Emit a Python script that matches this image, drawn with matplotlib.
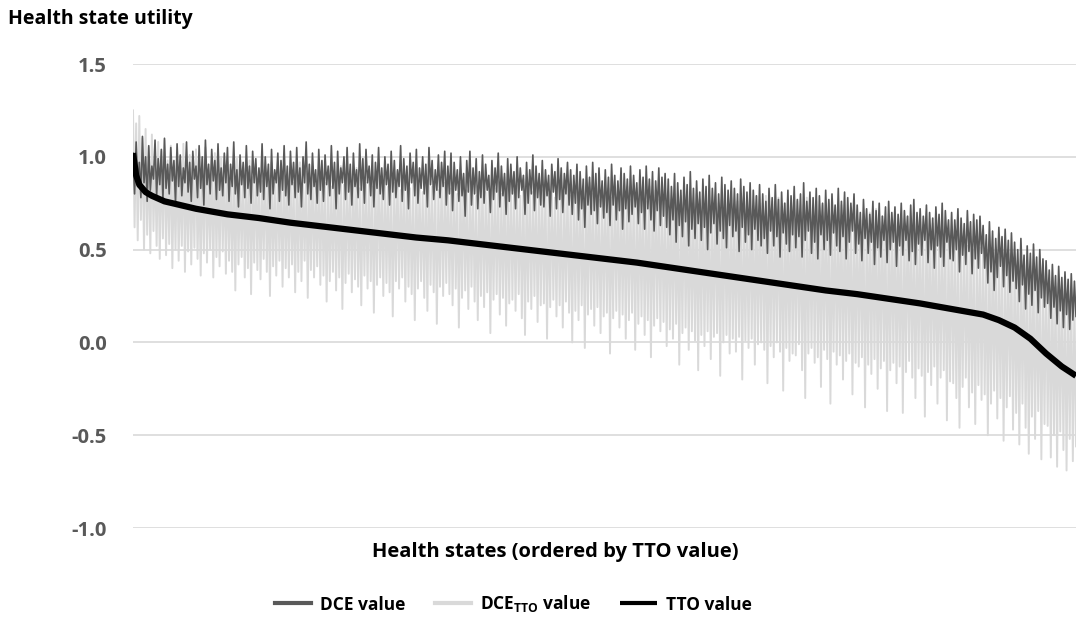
import numpy as np
import matplotlib
matplotlib.use('Agg')
import matplotlib.pyplot as plt

plt.rcParams['font.family'] = ['Open Sans', 'DejaVu Sans']
plt.rcParams['font.weight'] = 'bold'

# DCE value, health states ordered by TTO value
dce = [
    1.02, 0.80, 1.08, 0.84, 0.97, 0.78, 1.11, 0.86, 1.00, 0.76, 1.06, 0.82, 0.95, 0.88, 1.09, 0.79, 0.99, 0.85, 1.04, 0.77,
    1.10, 0.83, 0.96, 0.80, 1.05, 0.87, 0.98, 0.75, 1.07, 0.84, 1.01, 0.79, 0.94, 0.86, 1.08, 0.81, 0.97, 0.76, 1.03, 0.88,
    0.95, 0.78, 1.06, 0.83, 1.00, 0.74, 1.09, 0.85, 0.96, 0.80, 1.04, 0.87, 0.98, 0.77, 1.07, 0.82, 0.94, 0.79, 1.02, 0.86,
    1.05, 0.76, 0.96, 0.84, 1.08, 0.80, 0.93, 0.73, 1.01, 0.85, 0.97, 0.78, 1.06, 0.83, 0.95, 0.75, 1.03, 0.86, 0.99, 0.79,
    0.94, 0.81, 1.07, 0.77, 1.00, 0.84, 0.96, 0.72, 1.04, 0.80, 0.93, 0.86, 1.02, 0.76, 0.98, 0.82, 1.06, 0.79, 0.95, 0.74,
    1.03, 0.85, 0.97, 0.78, 1.05, 0.81, 0.94, 0.73, 1.00, 0.86, 1.08, 0.80, 0.96, 0.77, 1.02, 0.84, 0.93, 0.75, 1.04, 0.82,
    0.98, 0.76, 1.01, 0.85, 0.95, 0.79, 1.06, 0.83, 0.97, 0.72, 1.03, 0.80, 0.94, 0.86, 1.00, 0.77, 1.05, 0.81, 0.96, 0.74,
    1.02, 0.84, 0.93, 0.78, 1.07, 0.82, 0.99, 0.75, 1.04, 0.86, 0.95, 0.79, 1.01, 0.73, 0.97, 0.83, 1.05, 0.80, 0.94, 0.77,
    1.00, 0.85, 0.96, 0.74, 1.03, 0.81, 0.98, 0.78, 0.93, 0.84, 1.06, 0.76, 0.99, 0.82, 0.95, 0.72, 1.02, 0.86, 0.97, 0.79,
    1.04, 0.75, 0.94, 0.83, 1.00, 0.80, 0.96, 0.73, 1.05, 0.85, 0.98, 0.77, 0.93, 0.82, 1.01, 0.78, 0.97, 0.84, 1.03, 0.74,
    0.95, 0.80, 1.02, 0.71, 0.97, 0.82, 0.93, 0.76, 1.00, 0.79, 0.91, 0.68, 0.98, 0.81, 1.03, 0.74, 0.94, 0.80, 0.99, 0.72,
    0.92, 0.78, 1.01, 0.75, 0.96, 0.82, 0.90, 0.70, 0.98, 0.77, 0.94, 0.81, 1.02, 0.73, 0.95, 0.79, 0.91, 0.69, 0.99, 0.76,
    0.96, 0.80, 0.92, 0.72, 1.00, 0.78, 0.94, 0.82, 0.90, 0.69, 0.97, 0.75, 0.93, 0.80, 1.01, 0.71, 0.95, 0.78, 0.91, 0.74,
    0.98, 0.73, 0.93, 0.79, 0.90, 0.68, 0.96, 0.81, 0.92, 0.72, 0.99, 0.77, 0.94, 0.70, 0.91, 0.80, 0.97, 0.74, 0.93, 0.69,
    0.90, 0.75, 0.96, 0.66, 0.92, 0.72, 0.88, 0.62, 0.95, 0.74, 0.89, 0.69, 0.97, 0.71, 0.91, 0.64, 0.94, 0.73, 0.87, 0.67,
    0.93, 0.70, 0.89, 0.63, 0.96, 0.74, 0.90, 0.66, 0.87, 0.71, 0.94, 0.61, 0.91, 0.72, 0.88, 0.65, 0.95, 0.69, 0.90, 0.73,
    0.86, 0.64, 0.93, 0.70, 0.89, 0.61, 0.95, 0.72, 0.88, 0.66, 0.92, 0.60, 0.87, 0.71, 0.94, 0.63, 0.89, 0.68, 0.91, 0.62,
    0.88, 0.58, 0.84, 0.66, 0.91, 0.54, 0.86, 0.63, 0.82, 0.57, 0.89, 0.65, 0.85, 0.52, 0.92, 0.61, 0.83, 0.56, 0.87, 0.64,
    0.81, 0.55, 0.88, 0.62, 0.84, 0.50, 0.90, 0.59, 0.83, 0.64, 0.86, 0.53, 0.80, 0.60, 0.89, 0.56, 0.85, 0.51, 0.82, 0.63,
    0.87, 0.57, 0.83, 0.60, 0.80, 0.49, 0.88, 0.62, 0.84, 0.54, 0.81, 0.58, 0.86, 0.50, 0.82, 0.61, 0.79, 0.55, 0.85, 0.52,
    0.80, 0.56, 0.76, 0.48, 0.83, 0.60, 0.78, 0.52, 0.85, 0.57, 0.77, 0.46, 0.81, 0.59, 0.75, 0.53, 0.82, 0.49, 0.79, 0.58,
    0.84, 0.51, 0.77, 0.57, 0.80, 0.46, 0.86, 0.55, 0.76, 0.60, 0.81, 0.48, 0.78, 0.54, 0.83, 0.45, 0.79, 0.58, 0.75, 0.50,
    0.82, 0.55, 0.77, 0.47, 0.80, 0.59, 0.74, 0.52, 0.83, 0.49, 0.76, 0.57, 0.81, 0.45, 0.78, 0.54, 0.75, 0.60, 0.80, 0.48,
    0.74, 0.53, 0.70, 0.44, 0.77, 0.56, 0.72, 0.48, 0.69, 0.54, 0.76, 0.42, 0.71, 0.51, 0.75, 0.46, 0.68, 0.55, 0.73, 0.43,
    0.76, 0.50, 0.70, 0.54, 0.73, 0.41, 0.69, 0.52, 0.75, 0.47, 0.71, 0.55, 0.68, 0.44, 0.74, 0.49, 0.77, 0.42, 0.70, 0.53,
    0.72, 0.47, 0.68, 0.55, 0.74, 0.43, 0.70, 0.50, 0.67, 0.40, 0.73, 0.52, 0.69, 0.46, 0.75, 0.41, 0.71, 0.54, 0.66, 0.45,
    0.70, 0.44, 0.66, 0.50, 0.72, 0.38, 0.67, 0.47, 0.64, 0.42, 0.71, 0.49, 0.65, 0.37, 0.69, 0.45, 0.66, 0.40, 0.68, 0.48,
    0.63, 0.40, 0.58, 0.32, 0.65, 0.38, 0.60, 0.28, 0.56, 0.35, 0.62, 0.41, 0.57, 0.30, 0.61, 0.36, 0.55, 0.27, 0.59, 0.33,
    0.54, 0.29, 0.50, 0.22, 0.56, 0.31, 0.47, 0.18, 0.52, 0.26, 0.48, 0.20, 0.53, 0.28, 0.46, 0.16, 0.50, 0.24, 0.45, 0.19,
    0.44, 0.21, 0.39, 0.13, 0.42, 0.19, 0.36, 0.10, 0.41, 0.17, 0.35, 0.08, 0.38, 0.15, 0.34, 0.07, 0.37, 0.12, 0.33, 0.14,
]

# DCE value rescaled to the TTO scale
dce_tto = [
    1.25, 0.62, 1.18, 0.55, 1.22, 0.66, 1.10, 0.50, 1.15, 0.58, 1.05, 0.48, 1.12, 0.60, 1.00, 0.52, 1.08, 0.45, 1.03, 0.56,
    1.09, 0.47, 0.98, 0.53, 1.06, 0.40, 0.95, 0.50, 1.02, 0.44, 0.93, 0.52, 1.07, 0.38, 0.97, 0.49, 1.01, 0.42, 0.94, 0.51,
    1.04, 0.45, 0.92, 0.36, 0.99, 0.48, 1.05, 0.43, 0.91, 0.50, 0.98, 0.35, 1.02, 0.46, 0.93, 0.41, 1.00, 0.49, 0.95, 0.37,
    0.97, 0.44, 0.90, 0.38, 0.95, 0.28, 0.99, 0.42, 0.88, 0.46, 0.94, 0.35, 0.91, 0.40, 0.98, 0.26, 0.89, 0.43, 0.96, 0.39,
    0.92, 0.34, 0.87, 0.45, 0.95, 0.38, 0.90, 0.25, 0.97, 0.41, 0.86, 0.36, 0.93, 0.44, 0.89, 0.30, 0.96, 0.40, 0.88, 0.35,
    0.94, 0.42, 0.86, 0.27, 0.91, 0.38, 0.97, 0.33, 0.87, 0.44, 0.92, 0.24, 0.89, 0.39, 0.95, 0.35, 0.85, 0.41, 0.90, 0.31,
    0.93, 0.36, 0.86, 0.22, 0.90, 0.33, 0.84, 0.38, 0.92, 0.28, 0.88, 0.35, 0.95, 0.18, 0.85, 0.32, 0.91, 0.37, 0.87, 0.27,
    0.89, 0.34, 0.94, 0.30, 0.83, 0.20, 0.90, 0.36, 0.86, 0.29, 0.92, 0.33, 0.84, 0.16, 0.88, 0.31, 0.93, 0.35, 0.85, 0.25,
    0.91, 0.32, 0.84, 0.27, 0.89, 0.14, 0.86, 0.33, 0.92, 0.29, 0.82, 0.35, 0.88, 0.22, 0.90, 0.30, 0.83, 0.26, 0.87, 0.12,
    0.90, 0.29, 0.85, 0.33, 0.81, 0.24, 0.88, 0.17, 0.91, 0.31, 0.84, 0.27, 0.87, 0.10, 0.82, 0.30, 0.89, 0.25, 0.86, 0.32,
    0.88, 0.26, 0.83, 0.20, 0.90, 0.29, 0.80, 0.08, 0.86, 0.24, 0.89, 0.28, 0.82, 0.18, 0.87, 0.30, 0.84, 0.22, 0.79, 0.12,
    0.86, 0.25, 0.90, 0.19, 0.81, 0.27, 0.85, 0.05, 0.88, 0.23, 0.83, 0.26, 0.87, 0.15, 0.80, 0.24, 0.89, 0.09, 0.84, 0.21,
    0.87, 0.23, 0.82, 0.17, 0.85, 0.26, 0.79, 0.13, 0.88, 0.04, 0.83, 0.22, 0.86, 0.18, 0.81, 0.25, 0.84, 0.11, 0.87, 0.20,
    0.82, 0.21, 0.86, 0.02, 0.80, 0.19, 0.85, 0.23, 0.78, 0.14, 0.87, 0.20, 0.83, 0.08, 0.81, 0.22, 0.86, 0.16, 0.79, 0.00,
    0.85, 0.17, 0.81, 0.12, 0.84, 0.20, 0.78, -0.03, 0.83, 0.15, 0.86, 0.18, 0.80, 0.09, 0.82, 0.19, 0.77, 0.05, 0.84, 0.14,
    0.80, 0.16, 0.83, -0.06, 0.78, 0.13, 0.82, 0.17, 0.85, 0.08, 0.79, 0.15, 0.81, 0.02, 0.84, 0.12, 0.77, 0.16, 0.80, -0.04,
    0.83, 0.10, 0.78, 0.14, 0.81, 0.04, 0.76, 0.12, 0.84, -0.08, 0.79, 0.09, 0.82, 0.13, 0.77, 0.06, 0.80, 0.11, 0.75, -0.02,
    0.81, 0.07, 0.77, 0.02, 0.80, 0.10, 0.74, -0.12, 0.79, 0.05, 0.82, 0.08, 0.76, -0.04, 0.78, 0.06, 0.73, 0.01, 0.80, -0.15,
    0.77, 0.04, 0.80, -0.02, 0.74, 0.06, 0.78, -0.09, 0.72, 0.03, 0.79, 0.05, 0.75, -0.18, 0.77, 0.00, 0.81, 0.04, 0.73, -0.06,
    0.78, 0.02, 0.72, -0.05, 0.76, 0.03, 0.80, -0.20, 0.74, 0.01, 0.70, -0.03, 0.77, 0.02, 0.73, -0.12, 0.79, -0.01, 0.71, 0.00,
    0.75, -0.04, 0.79, -0.22, 0.72, -0.02, 0.76, -0.08, 0.70, 0.00, 0.78, -0.05, 0.73, -0.26, 0.75, -0.03, 0.69, -0.10, 0.77, -0.06,
    0.72, -0.07, 0.76, -0.01, 0.70, -0.15, 0.74, -0.30, 0.78, -0.06, 0.68, -0.03, 0.73, -0.11, 0.76, -0.08, 0.71, -0.24, 0.74, -0.04,
    0.70, -0.09, 0.75, -0.33, 0.69, -0.05, 0.73, -0.12, 0.67, -0.07, 0.74, -0.20, 0.71, -0.10, 0.66, -0.06, 0.72, -0.28, 0.68, -0.11,
    0.71, -0.13, 0.66, -0.08, 0.69, -0.35, 0.64, -0.12, 0.70, -0.17, 0.67, -0.09, 0.72, -0.25, 0.65, -0.14, 0.68, -0.10, 0.63, -0.37,
    0.69, -0.15, 0.65, -0.11, 0.70, -0.22, 0.62, -0.13, 0.67, -0.38, 0.64, -0.16, 0.68, -0.10, 0.61, -0.19, 0.66, -0.30, 0.63, -0.14,
    0.65, -0.18, 0.61, -0.40, 0.66, -0.16, 0.60, -0.23, 0.64, -0.13, 0.58, -0.33, 0.63, -0.19, 0.59, -0.15, 0.62, -0.42, 0.57, -0.21,
    0.60, -0.22, 0.55, -0.30, 0.59, -0.46, 0.53, -0.24, 0.58, -0.19, 0.52, -0.35, 0.57, -0.27, 0.50, -0.44, 0.55, -0.23, 0.51, -0.31,
    0.54, -0.28, 0.49, -0.50, 0.53, -0.33, 0.47, -0.26, 0.51, -0.41, 0.46, -0.30, 0.50, -0.53, 0.45, -0.35, 0.48, -0.29, 0.44, -0.47,
    0.46, -0.38, 0.42, -0.55, 0.45, -0.33, 0.40, -0.46, 0.43, -0.60, 0.38, -0.40, 0.41, -0.52, 0.36, -0.37, 0.39, -0.63, 0.35, -0.44,
    0.37, -0.45, 0.33, -0.62, 0.35, -0.50, 0.30, -0.67, 0.32, -0.48, 0.28, -0.58, 0.31, -0.69, 0.26, -0.52, 0.29, -0.64, 0.25, -0.56,
]

# TTO value at selected health states (same ordering)
tto_state = [0, 2, 4, 8, 12, 20, 40, 60, 80, 100, 120, 140, 160, 180, 200, 220,
             240, 260, 280, 300, 320, 340, 360, 380, 400, 420, 440, 460,
             480, 500, 520, 540, 550, 560, 570, 580, 590, 599]
tto = [1.02, 0.90, 0.85, 0.81, 0.79, 0.76, 0.72, 0.69, 0.67, 0.645, 0.625,
       0.605, 0.585, 0.565, 0.55, 0.53, 0.51, 0.49, 0.47, 0.45, 0.43, 0.405,
       0.38, 0.355, 0.33, 0.305, 0.28, 0.26, 0.235, 0.21, 0.18, 0.15, 0.12,
       0.08, 0.02, -0.06, -0.13, -0.18]

yticks = [-1.0, -0.5, 0.0, 0.5, 1.0, 1.5]

states = np.arange(len(dce))

fig = plt.figure(figsize=(10.76, 6.19), dpi=100)
ax = fig.add_axes([133/1076, 91/619, 1 - 133/1076, 464/619])

ax.plot(states, dce_tto, color='#d9d9d9', lw=1.4, zorder=2, label=r'DCE$_\mathregular{TTO}$ value')
ax.plot(states, dce, color='#595959', lw=1.2, zorder=3, label='DCE value')
ax.plot(tto_state, tto, color='black', lw=4.5, zorder=4, label='TTO value',
        solid_capstyle='butt')

ax.set_xlim(0, len(dce) - 1)
ax.set_ylim(-1.0, 1.5)
ax.set_yticks(yticks)
ax.set_yticklabels(['%.1f' % v for v in yticks], color='#595959', fontsize=14.5, fontweight='bold')
ax.set_xticks([])
ax.tick_params(axis='y', length=0, pad=19)
ax.grid(axis='y', color='#d9d9d9', lw=1.2, zorder=0)
ax.set_axisbelow(True)
for s in ax.spines.values():
    s.set_visible(False)

fig.text(8/1076, 1 - 19/619, 'Health state utility', fontsize=14, fontweight='bold',
         ha='left', va='center')
fig.text(555/1076, 1 - 552/619, 'Health states (ordered by TTO value)', fontsize=14.5,
         fontweight='bold', ha='center', va='center')

h, l = ax.get_legend_handles_labels()
order = [1, 0, 2]
leg = fig.legend([h[i] for i in order], [l[i] for i in order], loc='center',
                 bbox_to_anchor=(513/1076, 1 - 604/619), ncol=3, frameon=False,
                 fontsize=12.5, handlelength=2.1, handletextpad=0.5, columnspacing=1.7)
for ln in leg.get_lines():
    ln.set_linewidth(3)

fig.savefig('out.png', dpi=100)
